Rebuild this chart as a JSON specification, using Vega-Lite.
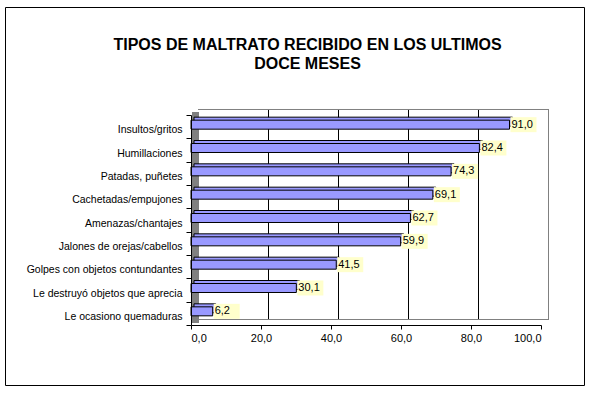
{
  "$schema": "https://vega.github.io/schema/vega-lite/v6.json",
  "width": 579,
  "height": 378,
  "autosize": {"type": "none"},
  "padding": {"left": 5, "top": 7, "right": 11, "bottom": 10},
  "background": "white",
  "config": {
    "view": {"stroke": "black", "strokeWidth": 1},
    "font": "Liberation Sans",
    "locale": {"number": {"decimal": ",", "thousands": ".", "grouping": [3], "currency": ["", ""]}}
  },
  "title": {
    "text": ["TIPOS DE MALTRATO RECIBIDO EN LOS ULTIMOS", "DOCE MESES"],
    "fontSize": 16,
    "fontWeight": "bold",
    "color": "black",
    "anchor": "middle",
    "offset": -70,
    "dx": 13,
    "lineHeight": 19
  },
  "datasets": {
    "maltrato": [
      {"tipo": "Insultos/gritos", "pct": 91.0},
      {"tipo": "Humillaciones", "pct": 82.4},
      {"tipo": "Patadas, puñetes", "pct": 74.3},
      {"tipo": "Cachetadas/empujones", "pct": 69.1},
      {"tipo": "Amenazas/chantajes", "pct": 62.7},
      {"tipo": "Jalones de orejas/cabellos", "pct": 59.9},
      {"tipo": "Golpes con objetos contundantes", "pct": 41.5},
      {"tipo": "Le destruyó objetos que aprecia", "pct": 30.1},
      {"tipo": "Le ocasiono quemaduras", "pct": 6.2}
    ],
    "grid": [{"v": 20}, {"v": 40}, {"v": 60}, {"v": 80}],
    "wall": [{"desde": 0, "hasta": 100, "arriba": "Insultos/gritos", "abajo": "Le ocasiono quemaduras"}]
  },
  "encoding": {
    "y": {
      "field": "tipo",
      "type": "nominal",
      "sort": null,
      "scale": {
        "domain": ["Insultos/gritos", "Humillaciones", "Patadas, puñetes", "Cachetadas/empujones", "Amenazas/chantajes", "Jalones de orejas/cabellos", "Golpes con objetos contundantes", "Le destruyó objetos que aprecia", "Le ocasiono quemaduras"],
        "range": [108, 318],
        "paddingInner": 0,
        "paddingOuter": 0
      },
      "axis": {
        "orient": "left",
        "offset": -186,
        "title": null,
        "domainColor": "black",
        "tickColor": "black",
        "tickSize": 5,
        "tickBand": "extent",
        "labelColor": "black",
        "labelFontSize": 10.5,
        "labelPadding": 4,
        "labelOffset": 3,
        "grid": false,
        "zindex": 1
      }
    },
    "x": {
      "field": "pct",
      "type": "quantitative",
      "scale": {"domain": [0, 100], "range": [186, 536], "nice": false, "zero": true},
      "axis": {
        "orient": "bottom",
        "offset": -60,
        "title": null,
        "values": [0, 20, 40, 60, 80, 100],
        "format": ".1f",
        "domainColor": "black",
        "tickColor": "black",
        "tickSize": 4,
        "labelColor": "black",
        "labelFontSize": 11,
        "labelPadding": 3,
        "grid": false,
        "zindex": 1
      }
    }
  },
  "layer": [
    {
      "data": {"name": "wall"},
      "mark": {"type": "rule", "color": "#808080", "strokeWidth": 7, "xOffset": 4.5, "yOffset": -14.67, "y2Offset": 9.67},
      "encoding": {
        "x": {"field": "desde", "type": "quantitative"},
        "y": {"field": "arriba", "type": "nominal"},
        "y2": {"field": "abajo"}
      }
    },
    {
      "data": {"name": "grid"},
      "mark": {"type": "rule", "color": "black", "strokeWidth": 1, "xOffset": 7.5, "yOffset": -17.17, "y2Offset": 6.17},
      "encoding": {
        "x": {"field": "v", "type": "quantitative"},
        "y": {"datum": "Insultos/gritos", "type": "nominal"},
        "y2": {"datum": "Le ocasiono quemaduras"}
      }
    },
    {
      "data": {"name": "wall"},
      "mark": {"type": "rule", "color": "#808080", "strokeWidth": 1, "xOffset": 7, "x2Offset": 8, "yOffset": -17.17},
      "encoding": {
        "x": {"field": "desde", "type": "quantitative"},
        "x2": {"field": "hasta"},
        "y": {"field": "arriba", "type": "nominal"}
      }
    },
    {
      "data": {"name": "wall"},
      "mark": {"type": "rule", "color": "#808080", "strokeWidth": 1, "xOffset": 8, "x2Offset": 8, "yOffset": 6.17},
      "encoding": {
        "x": {"field": "desde", "type": "quantitative"},
        "x2": {"field": "hasta"},
        "y": {"field": "abajo", "type": "nominal"}
      }
    },
    {
      "data": {"name": "wall"},
      "mark": {"type": "rule", "color": "#808080", "strokeWidth": 1, "xOffset": 7.5, "yOffset": -17.17, "y2Offset": 6.17},
      "encoding": {
        "x": {"field": "hasta", "type": "quantitative"},
        "y": {"field": "arriba", "type": "nominal"},
        "y2": {"field": "abajo"}
      }
    },
    {
      "data": {"name": "maltrato"},
      "mark": {"type": "bar", "fill": "#9999FF", "stroke": "black", "strokeWidth": 1, "height": 9, "xOffset": 3, "yOffset": -5}
    },
    {
      "data": {"name": "maltrato"},
      "mark": {"type": "bar", "fill": "#9999FF", "stroke": "black", "strokeWidth": 1, "height": 9, "yOffset": -2}
    },
    {
      "data": {"name": "maltrato"},
      "mark": {"type": "rect", "fill": "#FFFFCC", "width": 26, "height": 15, "xOffset": 14, "yOffset": -2}
    },
    {
      "data": {"name": "maltrato"},
      "mark": {"type": "text", "align": "left", "dx": 2, "dy": -2, "fontSize": 11, "color": "black"},
      "encoding": {"text": {"field": "pct", "type": "quantitative", "format": ".1f"}}
    }
  ]
}
